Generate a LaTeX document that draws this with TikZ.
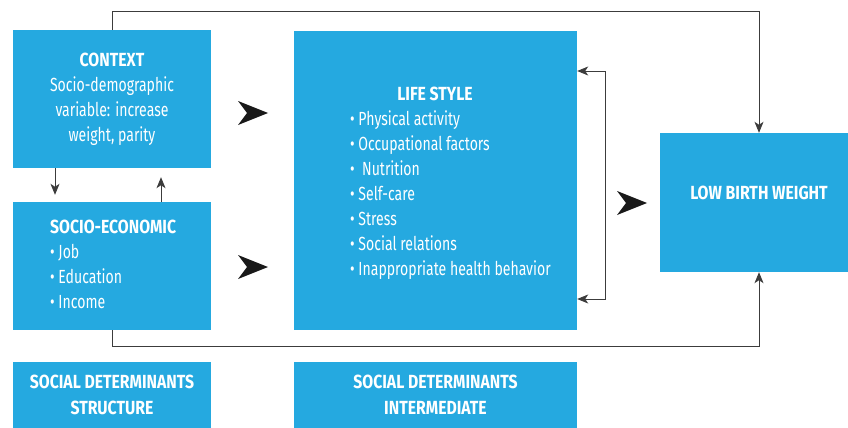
\documentclass[tikz,border=0pt]{standalone}
\usepackage{fontspec}
\setmainfont{Fira Sans}[UprightFeatures={FakeStretch=0.74}, BoldFeatures={FakeStretch=0.83}]
\usetikzlibrary{arrows.meta}
\definecolor{boxblue}{HTML}{25A9E0}
\definecolor{linegray}{HTML}{3C3C3C}

\begin{document}
\begin{tikzpicture}[x=1pt, y=-1pt,
    box/.style={fill=boxblue, inner sep=0pt, text=white, align=center,
        font=\fontsize{19}{25}\selectfont},
    txt/.style={inner sep=0pt, text=white, font=\fontsize{19}{25}\selectfont},
    link/.style={draw=linegray, line width=0.9pt},
    tipped/.style={-{Stealth[length=11pt, width=9pt, inset=3pt]}},
    bothtipped/.style={{Stealth[length=11pt, width=9pt, inset=3pt]}-{Stealth[length=11pt, width=9pt, inset=3pt]}},
    bighead/.pic={\fill[black!90] (-30,-12) -- (0,0) -- (-30,12) -- (-21,0) -- cycle;}
]
    \useasboundingbox (0,0) rectangle (848,428);

    \node[box, minimum width=198, minimum height=138] (context) at (112,99)
        {\bfseries CONTEXT\\Socio-demographic\\variable: increase\\weight, parity};
    \node[box, minimum width=198, minimum height=128] (socio) at (112,266) {};
    \node[txt, anchor=north west, align=left] (sociotext) at (50,220)
        {\bfseries SOCIO-ECONOMIC\\\textbullet\ Job\\\textbullet\ Education\\\textbullet\ Income};
    \node[box, minimum width=283, minimum height=299] (life) at (435.5,180.5) {};
    \node[txt, anchor=base] (lifetitle) at (435,100) {\bfseries LIFE STYLE};
    \node[txt, anchor=north west, align=left] (lifelist) at (350,110.8)
        {\textbullet\ Physical activity\\\textbullet\ Occupational factors\\
         \textbullet\ \ Nutrition\\\textbullet\ Self-care\\\textbullet\ Stress\\
         \textbullet\ Social relations\\\textbullet\ Inappropriate health behavior};
    \node[box, minimum width=188, minimum height=139] (lbw) at (754,202.5) {};
    \node[txt, anchor=base] (lbwtext) at (759,199.5) {\bfseries LOW BIRTH WEIGHT};
    \node[box, minimum width=198, minimum height=66,
        font=\fontsize{19}{26}\selectfont\bfseries] (sdstruct) at (112,395)
        {SOCIAL DETERMINANTS\\STRUCTURE};
    \node[box, minimum width=283, minimum height=66,
        font=\fontsize{19}{26}\selectfont\bfseries] (sdinter) at (435.5,395)
        {SOCIAL DETERMINANTS\\INTERMEDIATE};

    % connectors
    \coordinate (topturn) at (759,11);
    \coordinate (botturn) at (759,346);
    \coordinate (loopup) at (605,71);
    \coordinate (loopdown) at (605,299);
    \draw[link, tipped] (context.north) |- (topturn) -- (topturn |- lbw.north);
    \draw[link, tipped] (socio.south) |- (botturn) -- (botturn |- lbw.south);
    \draw[link, bothtipped] (loopup -| life.east) -- (loopup) -- (loopdown) -- (loopdown -| life.east);
    \draw[link, tipped, shorten >=7pt] ([xshift=-57]context.south) -- ([xshift=-57]socio.north);
    \draw[link, tipped, shorten >=9pt] ([xshift=49]socio.north) -- ([xshift=49]context.south);

    % big arrowheads
    \pic at (268,113) {bighead};
    \pic at (268,267) {bighead};
    \pic at (647,203) {bighead};
\end{tikzpicture}
\end{document}
